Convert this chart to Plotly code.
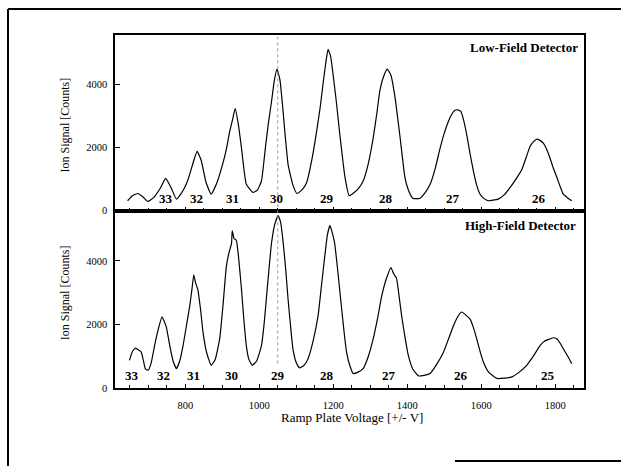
import plotly.graph_objects as go

# ---------------- data ----------------
v_low = [644, 658, 672, 686, 699, 715, 732, 747, 762, 776, 790, 803, 812, 822, 832, 843, 856, 870,
         886, 902, 912, 920, 928, 935, 944, 952, 965, 983, 995, 1006, 1017, 1025, 1033, 1041, 1048,
         1056, 1063, 1070, 1078, 1090, 1102, 1115, 1128, 1142, 1155, 1165, 1173, 1180, 1186, 1193,
         1200, 1209, 1218, 1232, 1243, 1255, 1268, 1281, 1295, 1308, 1318, 1326, 1336, 1346, 1356,
         1367, 1380, 1394, 1405, 1416, 1434, 1448, 1462, 1476, 1489, 1500, 1511, 1520, 1529, 1537,
         1545, 1553, 1561, 1570, 1579, 1588, 1597, 1608, 1619, 1632, 1646, 1662, 1678, 1694, 1710,
         1722, 1732, 1741, 1750, 1759, 1768, 1777, 1786, 1795, 1805, 1814, 1822, 1834, 1845]
s_low = [313, 480, 542, 430, 291, 420, 700, 1022, 720, 364, 560, 850, 1150, 1550, 1880, 1600, 900, 520,
         900, 1514, 2000, 2508, 2900, 3238, 2700, 1984, 834, 574, 650, 940, 2038, 2800, 3448, 4150, 4492,
         4150, 3342, 2400, 1461, 850, 542, 650, 887, 1600, 2508, 3300, 4075, 4700, 5119, 4900,
         4282, 3400, 2401, 1044, 470, 560, 700, 940, 1500, 2298, 3100, 3800, 4250, 4492, 4300,
         3605, 2401, 1044, 600, 386, 386, 560, 834, 1350, 1984, 2450, 2821, 3050, 3185, 3200,
         3150, 2850, 2401, 1800, 1254, 800, 520, 380, 313, 330, 364, 500, 730, 1000, 1304,
         1700, 2038, 2180, 2266, 2230, 2141, 1950, 1671, 1350, 1044, 750, 520, 400, 313]

v_high = [649, 657, 665, 673, 681, 687, 692, 700, 708, 717, 727, 737, 743, 749, 758, 767, 776, 785,
          794, 803, 812, 818, 823, 828, 834, 841, 848, 858, 870, 881, 893, 902, 911, 918, 925, 927,
          932, 938, 945, 952, 958, 965, 972, 981, 993, 1006, 1013, 1019, 1026, 1033, 1042, 1051,
          1058, 1064, 1071, 1078, 1085, 1091, 1100, 1109, 1120, 1132, 1146, 1159, 1168, 1177, 1184,
          1191, 1197, 1204, 1213, 1222, 1229, 1236, 1245, 1254, 1267, 1281, 1295, 1308, 1320, 1331,
          1344, 1356, 1363, 1371, 1378, 1385, 1394, 1403, 1415, 1430, 1446, 1462, 1480, 1498, 1512,
          1525, 1537, 1547, 1558, 1570, 1579, 1588, 1597, 1606, 1620, 1642, 1662, 1683, 1703, 1723,
          1741, 1759, 1772, 1786, 1795, 1805, 1814, 1822, 1834, 1845]
s_high = [870, 1150, 1252, 1200, 1127, 850, 600, 560, 800, 1335, 1850, 2236, 2100, 1904, 1335, 850, 611, 850,
          1335, 1950, 2578, 3100, 3562, 3300, 3096, 2500, 1749, 1100, 714, 900, 1543, 2600, 3820, 4250, 4544, 4950,
          4700, 4649, 4000, 3096, 2200, 1335, 900, 714, 850, 1335, 2000, 2786, 3700, 4544, 5150, 5425,
          5200, 4649, 3800, 2786, 1900, 1233, 800, 630, 700, 922, 1500, 2267, 3200, 4130, 4800,
          5115, 4900, 4544, 3600, 2578, 1800, 1127, 700, 456, 500, 611, 1000, 1543, 2200, 2888,
          3450, 3789, 3600, 3457, 2900, 2267, 1600, 1025, 600, 382, 400, 456, 750, 1127, 1550,
          1957, 2250, 2391, 2300, 2165, 1900, 1543, 1150, 817, 500, 301, 310, 351, 500, 714,
          1000, 1335, 1480, 1543, 1580, 1543, 1400, 1233, 1000, 767]

low_labels = ["33", "32", "31", "30", "29", "28", "27", "26"]
low_label_v = [747, 831, 927, 1046, 1182, 1344, 1523, 1757]
high_labels = ["33", "32", "31", "30", "29", "28", "27", "26", "25"]
high_label_v = [656, 741, 821, 925, 1051, 1182, 1351, 1545, 1782]

panel_titles = ["Low-Field Detector", "High-Field Detector"]
x_title = "Ramp Plate Voltage [+/- V]"
y_title = "Ion Signal [Counts]"
y_ticks = [0, 2000, 4000]
x_ticks = [800, 1000, 1200, 1400, 1600, 1800]

# ---------------- layout geometry ----------------
W, H = 621, 472
def px(yp):
    return 1 - yp / H

SERIF = "Liberation Serif, Times New Roman, serif"
FONT = dict(family=SERIF, size=10.5, color="black")

fig = go.Figure()
line = dict(color="black", width=1.2, shape="spline", smoothing=0.4)
fig.add_trace(go.Scatter(x=v_low, y=s_low, mode="lines", line=line, xaxis="x2", yaxis="y2",
                         showlegend=False, hoverinfo="skip"))
fig.add_trace(go.Scatter(x=v_high, y=s_high, mode="lines", line=line, xaxis="x", yaxis="y",
                         showlegend=False, hoverinfo="skip"))

xr = [610, 1878]
xdom = [115 / W, 584 / W]
common_x = dict(range=xr, tickvals=x_ticks, ticks="inside", ticklen=4, tickcolor="black",
                showline=True, linecolor="black", linewidth=1.5, mirror=True,
                showgrid=False, zeroline=False, tickfont=FONT,
                minor=dict(tickvals=list(range(650, 1876, 50)), ticks="inside", ticklen=3,
                           tickcolor="black", showgrid=False))
common_y = dict(tickvals=y_ticks, ticks="inside", ticklen=5, tickcolor="black",
                showline=True, linecolor="black", linewidth=1.5, mirror=True,
                showgrid=False, zeroline=False, tickfont=FONT, ticklabelstandoff=4)

fig.update_layout(
    width=W, height=H, margin=dict(l=0, r=0, t=0, b=0),
    paper_bgcolor="white", plot_bgcolor="white",
    xaxis=dict(domain=xdom, anchor="y", ticklabelstandoff=7, **common_x),
    yaxis=dict(domain=[px(393), px(213.3)], range=[0, 5580], anchor="x", **common_y),
    xaxis2=dict(domain=xdom, anchor="y2", showticklabels=False, **common_x),
    yaxis2=dict(domain=[px(213.3), px(35)], range=[0, 5590], anchor="x2", **common_y),
)

ann = []
# axis titles
ann.append(dict(text=x_title, x=352 / W, y=px(423), xref="paper", yref="paper",
                showarrow=False, font=dict(family=SERIF, size=13, color="black"),
                xanchor="center", yanchor="middle"))
for yc in (127, 297):
    ann.append(dict(text=y_title, x=65 / W, y=px(yc), xref="paper", yref="paper",
                    showarrow=False, textangle=-90,
                    font=dict(family=SERIF, size=12, color="black"),
                    xanchor="center", yanchor="middle"))
# panel titles
ann.append(dict(text="<b>%s</b>" % panel_titles[0], x=580 / W, y=px(48), xref="paper", yref="paper",
                showarrow=False, xanchor="right", yanchor="middle",
                font=dict(family=SERIF, size=13, color="black")))
ann.append(dict(text="<b>%s</b>" % panel_titles[1], x=578 / W, y=px(228), xref="paper", yref="paper",
                showarrow=False, xanchor="right", yanchor="middle",
                font=dict(family=SERIF, size=13, color="black")))
# peak labels
for t, v in zip(low_labels, low_label_v):
    ann.append(dict(text="<b>%s</b>" % t, x=v, xref="x2", y=px(201), yref="paper",
                    showarrow=False, xanchor="center", yanchor="middle",
                    font=dict(family=SERIF, size=13, color="black")))
for t, v in zip(high_labels, high_label_v):
    ann.append(dict(text="<b>%s</b>" % t, x=v, xref="x", y=px(380), yref="paper",
                    showarrow=False, xanchor="center", yanchor="middle",
                    font=dict(family=SERIF, size=13, color="black")))
fig.update_layout(annotations=ann)

shapes = []
# dotted vertical reference line
shapes.append(dict(type="line", xref="x", yref="paper", x0=1050, x1=1050, y0=px(368), y1=px(37),
                   line=dict(color="#999999", width=1, dash="dot")))
# outer frame of the scanned figure
shapes.append(dict(type="line", xref="paper", yref="paper", x0=8 / W, x1=1, y0=px(9), y1=px(9),
                   line=dict(color="black", width=2)))
shapes.append(dict(type="line", xref="paper", yref="paper", x0=8 / W, x1=8 / W, y0=px(9), y1=0,
                   line=dict(color="black", width=2)))
shapes.append(dict(type="line", xref="paper", yref="paper", x0=455 / W, x1=1, y0=px(467), y1=px(467),
                   line=dict(color="black", width=2)))
fig.update_layout(shapes=shapes)

fig.write_html("out.html")
